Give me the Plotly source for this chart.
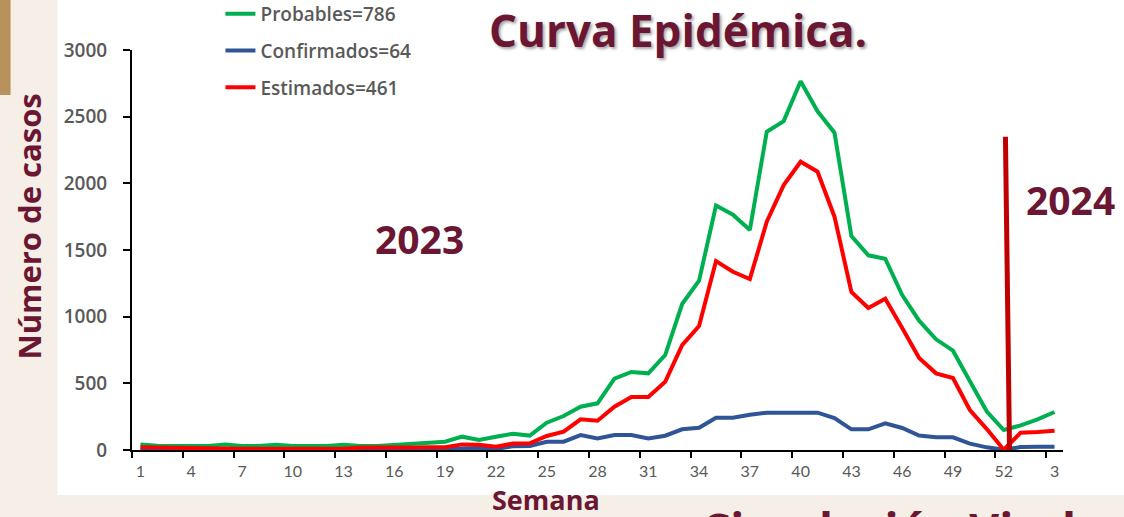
import plotly.graph_objects as go

# Epidemiological weeks: 2023 weeks 1-52 followed by 2024 weeks 1-3
semanas = list(range(1, 53)) + [1, 2, 3]

probables = [42, 32, 30, 30, 30, 42, 30, 30, 40, 30, 30, 30, 40, 30, 30, 38, 47, 52, 62,
             100, 75, 100, 122, 108, 205, 255, 325, 350, 535, 585, 575, 712, 1095, 1270,
             1833, 1765, 1650, 2387, 2467, 2765, 2540, 2380, 1605, 1460, 1435, 1162, 970,
             830, 745, 515, 288, 150,
             185, 230, 285]

confirmados = [3, 3, 3, 2, 2, 2, 2, 2, 2, 2, 2, 2, 2, 3, 3, 3, 3, 3, 5,
               12, 15, 8, 28, 30, 62, 62, 112, 87, 112, 112, 87, 107, 155, 167,
               242, 242, 265, 280, 280, 280, 280, 240, 155, 155, 200, 165, 108,
               95, 95, 48, 20, 2,
               22, 25, 25]

estimados = [20, 18, 18, 10, 10, 10, 10, 10, 10, 10, 10, 10, 10, 18, 18, 12, 18, 20, 20,
             42, 40, 25, 48, 50, 105, 137, 230, 220, 325, 397, 397, 512, 787, 930,
             1417, 1337, 1282, 1712, 1987, 2162, 2087, 1750, 1185, 1065, 1135, 915, 690,
             575, 540, 300, 157, 2,
             130, 135, 145]

series_names = ["Probables=786", "Confirmados=64", "Estimados=461"]
series_colors = ["#00b050", "#2f5597", "#ff0000"]

y_ticks = [0, 500, 1000, 1500, 2000, 2500, 3000]

W, H = 1124, 517
L, R, T, B = 131.5, 61, 50, 67
PW, PH = W - L - R, H - T - B

MAROON = "#6b1632"
GREY = "#595959"


def px_x(px):
    return (px - L) / PW


def px_y(py):
    return (H - B - py) / PH


idx = list(range(len(semanas)))
tick_idx = idx[::3]
tick_txt = [str(semanas[i]) for i in tick_idx]

fig = go.Figure()
for name, vals, col in zip(series_names, [probables, confirmados, estimados], series_colors):
    fig.add_trace(go.Scatter(
        x=idx, y=vals, mode="lines", name=name, legendgroup=name,
        line=dict(color=col, width=4), cliponaxis=False,
    ))

# page background, white chart panel and decorative strip
fig.add_shape(type="rect", xref="paper", yref="paper", layer="below",
              x0=px_x(57), x1=px_x(W + 5), y0=px_y(495), y1=px_y(-5),
              fillcolor="white", line_width=0)
fig.add_shape(type="rect", xref="paper", yref="paper", layer="below",
              x0=px_x(-5), x1=px_x(10), y0=px_y(95), y1=px_y(-5),
              fillcolor="#b8925c", line_width=0)

# divider between 2023 and 2024
fig.add_shape(type="line", xref="x", yref="y", layer="above",
              x0=51.1, y0=2350, x1=51.35, y1=-85,
              line=dict(color="#c00000", width=5))

big = dict(family="Open Sans", color=MAROON, weight=700)


def label(text, cx, cy, size, **kw):
    fig.add_annotation(text=text, xref="paper", yref="paper",
                       x=px_x(cx), y=px_y(cy), xanchor="center",
                       yanchor=kw.pop("yanchor", "middle"), showarrow=False,
                       font=dict(size=size, **big, **kw.pop("font_extra", {})), **kw)


label("Curva Epidémica.", 678, 30, 44,
      font_extra=dict(shadow="2px 2px 3px rgba(0,0,0,0.35)"))
label("2023", 419, 238, 39)
label("2024", 1071, 199, 39)
label("Semana", 546, 499, 27, borderpad=0)
label("Número de casos", 28, 227, 31, textangle=-90)
label("Circulación Viral", 888, 496, 46, yanchor="top")

fig.update_layout(
    width=W, height=H,
    margin=dict(l=L, r=R, t=T, b=B, autoexpand=False),
    paper_bgcolor="#f5efe7",
    plot_bgcolor="white",
    showlegend=True,
    legend=dict(
        x=px_x(220), y=px_y(-5), xanchor="left", yanchor="top",
        bgcolor="rgba(0,0,0,0)", traceorder="grouped", tracegroupgap=9,
        font=dict(family="Open Sans", size=19, color=GREY, weight=600),
    ),
    xaxis=dict(
        range=[-0.5, 54.5], showgrid=False, zeroline=False,
        showline=True, linecolor="black", linewidth=2,
        tickmode="array", tickvals=tick_idx, ticktext=tick_txt, ticks="",
        ticklabelstandoff=6,
        tickfont=dict(family="Lato", size=16, color=GREY),
        minor=dict(tickmode="array", tickvals=[i - 0.5 for i in tick_idx],
                   ticks="outside", ticklen=6, tickwidth=2, tickcolor="black"),
    ),
    yaxis=dict(
        range=[0, 3000], showgrid=False, zeroline=False,
        showline=True, linecolor="black", linewidth=2,
        tickmode="array", tickvals=y_ticks, ticks="outside", ticklen=7,
        tickwidth=2, tickcolor="black", ticklabelstandoff=12,
        tickfont=dict(family="Open Sans", size=19, color=GREY, weight=600),
    ),
)

fig.write_html("out.html")
